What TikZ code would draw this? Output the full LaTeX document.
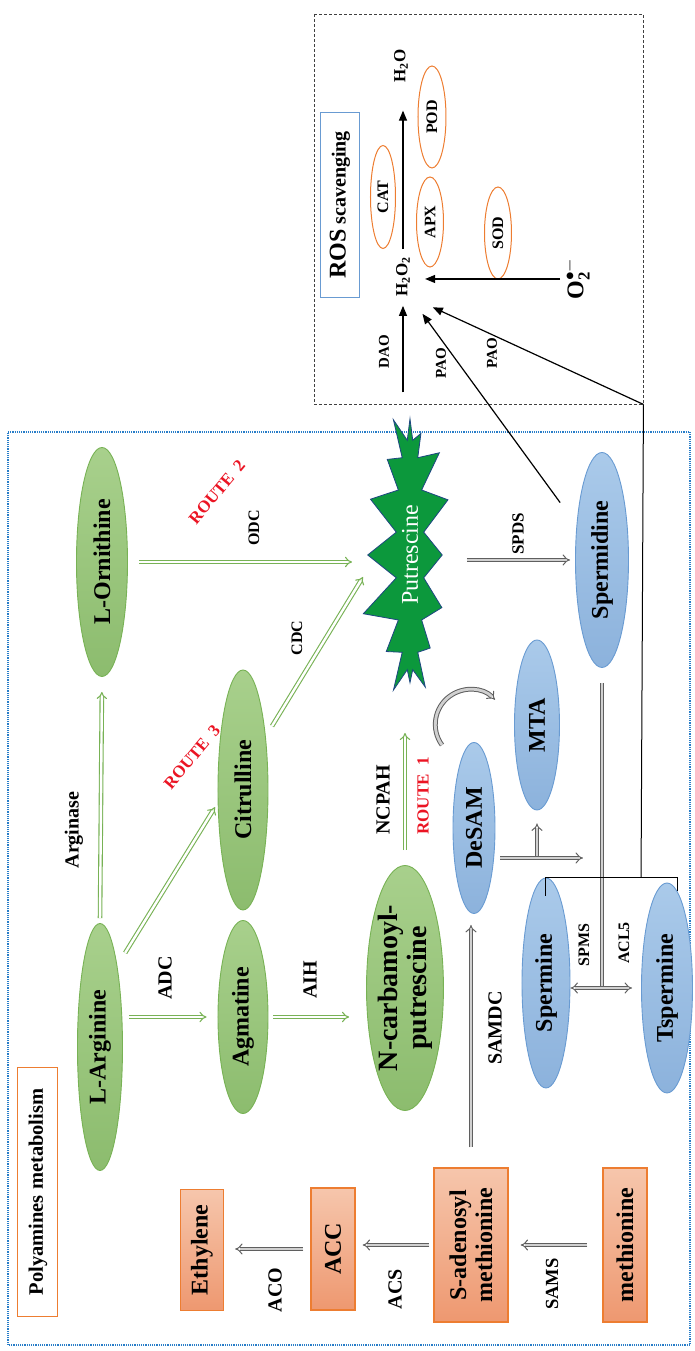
\documentclass[tikz,border=0pt]{standalone}
\usepackage{fontspec}
\setmainfont{Liberation Serif}
\usetikzlibrary{positioning,arrows.meta,shapes.geometric,shapes.symbols}
\definecolor{LeafEdge}{RGB}{120,178,85}
\definecolor{LeafLight}{RGB}{168,208,140}
\definecolor{LeafDark}{RGB}{140,188,110}
\definecolor{SkyEdge}{RGB}{105,155,210}
\definecolor{SkyLight}{RGB}{170,202,234}
\definecolor{SkyDark}{RGB}{140,178,220}
\definecolor{RustEdge}{RGB}{237,125,49}
\definecolor{RustLight}{RGB}{246,198,172}
\definecolor{RustDark}{RGB}{238,152,112}
\definecolor{StarGreen}{RGB}{12,152,60}
\definecolor{StarEdge}{RGB}{30,70,130}
\definecolor{RouteRed}{RGB}{235,20,35}
\definecolor{FrameBlue}{RGB}{40,125,200}
\definecolor{PipeGray}{RGB}{95,95,95}
\definecolor{PipeFill}{RGB}{208,208,208}
\newcommand{\fsz}[1]{\fontsize{#1}{#1}\selectfont}
\tikzset{
  greenell/.style={ellipse,draw=LeafEdge,line width=0.9pt,top color=LeafLight,bottom color=LeafDark,
    inner sep=0pt,align=center,font=\fsz{24}\bfseries},
  blueell/.style={ellipse,draw=SkyEdge,line width=0.9pt,top color=SkyLight,bottom color=SkyDark,
    inner sep=0pt,align=center,font=\fsz{24}\bfseries},
  rustbox/.style={rectangle,draw=RustEdge,line width=1.2pt,top color=RustLight,bottom color=RustDark,
    inner sep=0pt,align=center,font=\fontsize{24}{26}\selectfont\bfseries},
  enzell/.style={ellipse,draw=RustEdge,line width=1pt,inner sep=0pt,font=\fsz{16}\bfseries},
  enz/.style={font=\fsz{20}\bfseries,inner sep=0pt},
  enzsmall/.style={font=\fsz{16}\bfseries,inner sep=0pt},
  chem/.style={font=\fsz{17}\bfseries,inner sep=0pt},
  route/.style={text=RouteRed,font=\fsz{17}\bfseries,inner sep=0pt},
  greenflow/.style={draw=LeafEdge,line width=1.1pt,double=white,double distance=2.4pt,-{Implies}},
  grayflow/.style={draw=PipeGray,line width=1pt,double=PipeFill,double distance=2.8pt,-{Implies}},
  rosflow/.style={-{Triangle[length=10pt,width=8pt]},line width=1.2pt},
  rosline/.style={line width=1pt}
}

\begin{document}
\begin{tikzpicture}[x=1pt,y=1pt]
\begin{scope}[rotate=90,transform shape]
  \useasboundingbox (0,0) rectangle (1351,695);

  % frames
  \draw[FrameBlue,densely dotted,line width=1.2pt] (6,5) rectangle (919,687);
  \node[draw=black!75,densely dashed,line width=0.9pt,minimum width=390pt,minimum height=329pt,
    inner sep=0pt] (rosframe) at (1142,216.5) {};
  \node[draw=RustEdge,line width=1pt,fill=white,minimum width=249pt,minimum height=40pt,
    inner sep=0pt,font=\fsz{20.5}\bfseries] (pmtitle) at (159,657) {Polyamines metabolism};
  \node[draw=SkyEdge,line width=1pt,fill=white,minimum width=185pt,minimum height=39pt,
    inner sep=0pt,font=\fsz{20}\bfseries] (rostitle) at (1146,355) {{\fsz{24}ROS} scavenging};

  % amino acids and intermediates
  \node[greenell,minimum width=229pt,minimum height=51pt] (orn) at (789,593) {L-Ornithine};
  \node[greenell,minimum width=247pt,minimum height=45pt] (arg) at (304,595) {L-Arginine};
  \node[greenell,minimum width=240pt,minimum height=50pt] (cit) at (561,452) {Citrulline};
  \node[greenell,minimum width=193pt,minimum height=50pt] (agm) at (334,452) {Agmatine};
  \node[greenell,minimum width=245pt,minimum height=75pt,font=\fontsize{28}{29}\selectfont\bfseries]
    (ncp) at (363,290) {N-carbamoyl-\\putrescine};
  \node[starburst,starburst points=16,starburst point height=38pt,random starburst=11,
    fill=StarGreen,draw=StarEdge,line width=0.8pt,minimum width=310pt,minimum height=104pt,
    inner sep=0pt,text=white,font=\fsz{24}] (put) at (796,285) {Putrescine};

  % polyamines
  \node[blueell,minimum width=171pt,minimum height=42pt] (desam) at (523,221) {DeSAM};
  \node[blueell,minimum width=170pt,minimum height=45pt] (mta) at (626,158) {MTA};
  \node[blueell,minimum width=215pt,minimum height=53pt] (spd) at (791,93) {Spermidine};
  \node[blueell,minimum width=210pt,minimum height=48pt] (spm) at (368,149) {Spermine};
  \node[blueell,minimum width=210pt,minimum height=51pt] (tspm) at (363,28) {Tspermine};

  % ethylene branch
  \node[rustbox,minimum width=121pt,minimum height=43pt] (ethy) at (101,493) {Ethylene};
  \node[rustbox,minimum width=122pt,minimum height=44pt] (acc) at (102,362) {ACC};
  \node[rustbox,minimum width=154pt,minimum height=74pt] (sam) at (106,224) {S-adenosyl\\methionine};
  \node[rustbox,minimum width=154pt,minimum height=44pt] (met) at (106,70) {methionine};

  % ROS scavenging
  \node[chem] (h2o2) at (1074,292) {H\textsubscript{2}O\textsubscript{2}};
  \node[chem] (h2o) at (1285,294) {H\textsubscript{2}O};
  \node[chem,font=\fsz{24}\bfseries] (o2) at (1072,118) {O$_{\mathbf{2}}^{\bullet-}$};
  \node[enzell,minimum width=103pt,minimum height=25pt] (cat) at (1154,312) {CAT};
  \node[enzell,minimum width=90pt,minimum height=27pt] (apx) at (1129,265) {APX};
  \node[enzell,minimum width=102pt,minimum height=28pt] (pod) at (1234,263) {POD};
  \node[enzell,minimum width=92pt,minimum height=27pt] (sod) at (1118,197) {SOD};

  % enzyme labels
  \node[enz] (argase) at (521,621) {Arginase};
  \node[enzsmall] (odc) at (823,441) {ODC};
  \node[enzsmall] (cdc) at (713,398) {CDC};
  \node[enz] (adc) at (373,530) {ADC};
  \node[enz] (aih) at (371,385) {AIH};
  \node[enz] (ncpah) at (551,312) {NCPAH};
  \node[enzsmall,font=\fsz{17}\bfseries] (spds) at (817,177) {SPDS};
  \node[enz] (samdc) at (323,200) {SAMDC};
  \node[enzsmall] (spms) at (406,111) {SPMS};
  \node[enzsmall] (acl) at (408,71) {ACL5};
  \node[enz] (aco) at (61,420) {ACO};
  \node[enz] (acs) at (62,300) {ACS};
  \node[enz,font=\fsz{18.5}\bfseries] (sams) at (67,143) {SAMS};
  \node[enzsmall,font=\fsz{15}\bfseries] (dao) at (999,311) {DAO};
  \node[enzsmall,font=\fsz{15}\bfseries] (pao) at (988,254) {PAO};
  \node[enzsmall,font=\fsz{15}\bfseries] (paob) at (998,203) {PAO};
  \node[route] (r1) at (555,272) {ROUTE~~1};
  \node[route,rotate=-40] (r2) at (859,478) {ROUTE~~2};
  \node[route,rotate=-40] (r3) at (594,503) {ROUTE~~3};

  % routes to putrescine
  \draw[greenflow,shorten <=5pt,shorten >=15pt] (arg.east) -- (orn.west);
  \draw[greenflow,shorten <=15pt,shorten >=5pt] (arg.-12) -- (cit.117);
  \draw[greenflow,shorten <=12pt] (cit.-23) -- ([shift={(-22,47)}]put.center);
  \draw[greenflow,shorten <=11pt] (orn.south) -- ([shift={(-7,58)}]put.center);
  \draw[greenflow,shorten <=6pt,shorten >=11pt] (agm.north |- arg.south) -- (agm.north);
  \draw[greenflow,shorten <=5pt,shorten >=17pt] (agm.south) -- (agm.south |- ncp.north);
  \draw[greenflow,shorten <=15pt] (ncp.east) -- ([shift={(-178,5)}]put.center);

  % SAM side
  \draw[grayflow,shorten <=15pt,shorten >=12pt] (met.north) -- (met.north |- sam.south);
  \draw[grayflow,shorten <=4pt,shorten >=7pt] (sam.north) -- (sam.north |- acc.south);
  \draw[grayflow,shorten <=7pt,shorten >=11pt] (acc.north) -- (acc.north |- ethy.south);
  \draw[grayflow,shorten <=20pt,shorten >=11pt] (sam.east) -- (sam.east -| desam.west);

  % higher polyamines
  \coordinate (aminoprop) at (493,112);
  \draw[grayflow,shorten >=13pt] (aminoprop |- mta) -- (mta.west);
  \draw[grayflow,shorten <=5pt] ([xshift=-30pt]desam.south) -- (aminoprop);
  \draw[grayflow] ([shift={(-3,32)}]desam.east) arc[start angle=126,end angle=-45,radius=35];
  \draw[grayflow,shorten >=5pt] ([shift={(-5,-57)}]put.center) -- (spd.north);
  \coordinate (sj) at (tspm |- spd);
  \draw[grayflow,-,shorten <=15pt] (spd.west) -- (sj);
  \draw[grayflow,{Implies}-{Implies},shorten >=9pt] (sj |- spm.south) -- (sj |- tspm.north);

  % oxidation to H2O2
  \draw[rosline] ([xshift=-18pt]spm.east) -- (spm.east) -- (spm.east |- tspm.-6) -- (tspm.-6);
  \draw[rosline] (spm.east |- tspm.north) -- (rosframe.south west);
  \draw[rosflow,shorten >=25pt] (rosframe.south west) -- (h2o2.south west);
  \draw[rosflow,shorten <=71pt,shorten >=21pt] (spd.center) -- (h2o2.south west);
  \draw[rosflow,shorten <=12pt,shorten >=9pt] (rosframe.west |- h2o2.west) -- (h2o2.west);
  \draw[rosflow,shorten <=4pt,shorten >=15pt] (o2.north) -- (o2.north |- h2o2.south);
  \draw[rosflow,shorten <=8pt,shorten >=28pt] (h2o2.east) -- (h2o2.east -| h2o.west);
\end{scope}
\end{tikzpicture}
\end{document}
